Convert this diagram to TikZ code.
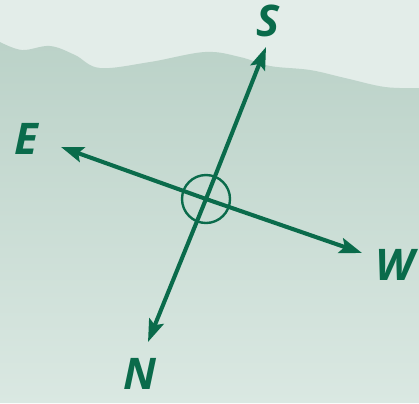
\documentclass[tikz,border=0pt]{standalone}
\usepackage{fontspec}
\setsansfont{Open Sans}
\usetikzlibrary{arrows.meta}
\definecolor{compassgreen}{HTML}{0A6B4B}
\definecolor{skytint}{HTML}{E3EDE9}
\definecolor{hilltop}{HTML}{BBD2C8}
\definecolor{hillbottom}{HTML}{DAE8E2}
\tikzset{
  dirlabel/.style={text=compassgreen, font=\sffamily\bfseries\itshape\fontsize{31}{31}\selectfont, inner sep=0pt},
  pointer/.style={draw=compassgreen, line width=2.9pt, -{Stealth[length=16pt, width=11pt, inset=3pt]}}
}
\begin{document}
\begin{tikzpicture}[x=0.025cm, y=-0.025cm]
% background
\fill[skytint] (0,0) rectangle (419,403);
\shade[top color=hilltop, bottom color=hillbottom]
  plot[smooth, tension=0.6] coordinates {(0,42) (22,50) (50,46) (75,55) (100,68) (150,62)
    (205,52) (240,57) (270,66) (310,70) (345,78) (385,87) (419,88)}
  -- (419,403) -- (0,403) -- cycle;
\useasboundingbox (0,0) rectangle (419,403);

\coordinate (c) at (206,199);
\coordinate (s) at (266,47);
\coordinate (n) at (148,342);
\coordinate (e) at (61,147);
\coordinate (w) at (362,253);

\draw[pointer] (c) -- (s);
\draw[pointer] (c) -- (n);
\draw[pointer] (c) -- (e);
\draw[pointer] (c) -- (w);
\draw[compassgreen, line width=1.7pt] (c) circle (24);

\node[dirlabel] (sl) at (268,21) {S};
\node[dirlabel] (el) at (26,139) {E};
\node[dirlabel] (wl) at (395,265) {W};
\node[dirlabel] (nl) at (140,374) {N};
\end{tikzpicture}
\end{document}
